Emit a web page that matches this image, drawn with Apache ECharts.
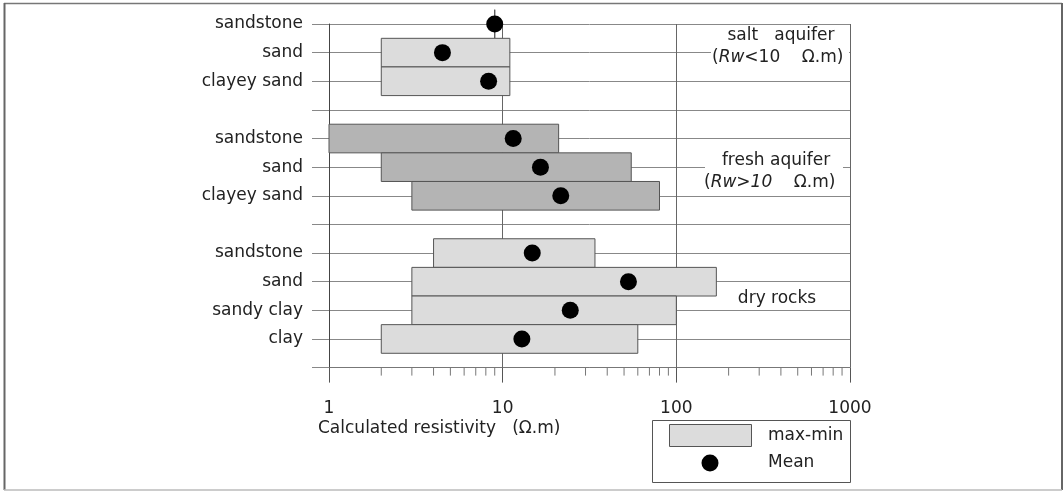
<!DOCTYPE html>
<html>
<head>
<meta charset="utf-8">
<style>
html,body{margin:0;padding:0;background:#fff;}
#chart{width:1064px;height:492px;}
</style>
<script src="https://cdn.jsdelivr.net/npm/echarts@6/dist/echarts.min.js"></script>
</head>
<body>
<div id="chart"></div>
<script>
// Row labels (top to bottom); empty strings are the gaps between groups
const categories = ['sandstone','sand','clayey sand','','sandstone','sand','clayey sand','','sandstone','sand','sandy clay','clay',''];
// Rows that carry data, with their group
const rowIndex   = [0, 1, 2, 4, 5, 6, 8, 9, 10, 11];
const rowGroup   = ['salt','salt','salt','fresh','fresh','fresh','dry','dry','dry','dry'];
// Resistivity (Ω.m)
const minValues  = [9, 2, 2, 1, 2, 3, 4, 3, 3, 2];
const maxValues  = [9, 11, 11, 21, 55, 80, 34, 170, 100, 60];
const meanValues = [9, 4.5, 8.3, 11.5, 16.5, 21.6, 14.8, 53, 24.5, 12.9];
// Axis tick labels
const xTickLabels = ['1', '10', '100', '1000'];
const minorTickValues = [2,3,4,5,6,7,8,9,20,30,40,50,60,70,80,90,200,300,400,500,600,700,800,900];

const FONT = 'DejaVu Sans';
const TXT = '#222';
const groupFill = { salt: '#dcdcdc', fresh: '#b4b4b4', dry: '#dcdcdc' };

const boxData = rowIndex.map((r, i) => [r, minValues[i], maxValues[i], rowGroup[i]]);
const meanData = rowIndex.map((r, i) => [meanValues[i], r]);

const chart = echarts.init(document.getElementById('chart'), null, { renderer: 'canvas' });

chart.setOption({
  animation: false,
  backgroundColor: '#fff',
  grid: { left: 329, right: 214, top: 24, bottom: 124.4, containLabel: false },
  xAxis: {
    type: 'log', logBase: 10, min: 1, max: 1000, position: 'bottom',
    axisLine: { show: true, onZero: false, lineStyle: { color: '#777', width: 1 } },
    axisTick: { show: true, inside: false, length: 15, lineStyle: { color: '#555' } },
    axisLabel: {
      margin: 32, fontFamily: FONT, fontSize: 17, color: TXT,
      formatter: v => xTickLabels[Math.round(Math.log10(v))] || ''
    },
    splitLine: { show: true, lineStyle: { color: '#666', width: 1 } },
    minorTick: { show: false }
  },
  yAxis: {
    type: 'value', min: 0, max: 12, interval: 1, inverse: true, position: 'left',
    axisLine: { show: true, onZero: false, lineStyle: { color: '#444', width: 1 } },
    axisTick: { show: true, length: 17, lineStyle: { color: '#888' } },
    axisLabel: {
      margin: 26, fontFamily: FONT, fontSize: 17, color: TXT, padding: [4, 0, 0, 0],
      formatter: v => categories[v] || ''
    },
    splitLine: { show: true, lineStyle: { color: '#888', width: 1 } }
  },
  series: [
    {
      name: 'max-min', type: 'custom', z: 3,
      data: boxData,
      encode: { x: [1, 2], y: 0 },
      renderItem: function (params, api) {
        const row = api.value(0);
        const p1 = api.coord([api.value(1), row - 0.5]);
        const p2 = api.coord([api.value(2), row + 0.5]);
        const g = boxData[params.dataIndex][3];
        return {
          type: 'rect',
          shape: {
            x: Math.min(p1[0], p2[0]), y: Math.min(p1[1], p2[1]),
            width: Math.abs(p2[0] - p1[0]), height: Math.abs(p2[1] - p1[1])
          },
          style: { fill: groupFill[g], stroke: '#555', lineWidth: 1 }
        };
      }
    },
    {
      name: 'minor ticks', type: 'custom', z: 3, silent: true, clip: false,
      data: minorTickValues.map(v => [v, 12]),
      encode: { x: 0, y: 1 },
      renderItem: function (params, api) {
        const p = api.coord([api.value(0), api.value(1)]);
        return {
          type: 'line',
          shape: { x1: p[0], y1: p[1], x2: p[0], y2: p[1] + 8 },
          style: { stroke: '#777', lineWidth: 1 }
        };
      }
    },
    {
      name: 'Mean', type: 'scatter', z: 5,
      data: meanData,
      symbol: 'circle', symbolSize: 17,
      itemStyle: { color: '#000', opacity: 1 }
    }
  ],
  graphic: [
    // outer frame
    { type: 'line', z: 100, shape: { x1: 4, y1: 3.5, x2: 1062, y2: 3.5 }, style: { stroke: '#777', lineWidth: 1.5 } },
    { type: 'line', z: 100, shape: { x1: 4.5, y1: 3, x2: 4.5, y2: 490 }, style: { stroke: '#666', lineWidth: 2 } },
    { type: 'line', z: 100, shape: { x1: 1062, y1: 3, x2: 1062, y2: 490 }, style: { stroke: '#666', lineWidth: 2 } },
    { type: 'line', z: 100, shape: { x1: 4, y1: 490, x2: 1062, y2: 490 }, style: { stroke: '#bbb', lineWidth: 1.5 } },
    // annotation backgrounds
    { type: 'rect', z: 100, shape: { x: 711, y: 46, width: 138, height: 22 }, style: { fill: '#fff' } },
    { type: 'rect', z: 100, shape: { x: 705, y: 150, width: 138, height: 41 }, style: { fill: '#fff' } },
    // annotations
    { type: 'text', z: 101, x: 781, y: 36, style: { text: 'salt   aquifer', fontFamily: FONT, fontSize: 17, fill: TXT, align: 'center', verticalAlign: 'middle' } },
    { type: 'text', z: 101, x: 712, y: 58, style: {
        text: '{n|(}{i|Rw}{n|<10    Ω.m)}', align: 'left', verticalAlign: 'middle',
        rich: { n: { fontFamily: FONT, fontSize: 17, fill: TXT }, i: { fontFamily: FONT, fontSize: 17, fontStyle: 'italic', fill: TXT } } } },
    { type: 'text', z: 101, x: 776, y: 161, style: { text: 'fresh aquifer', fontFamily: FONT, fontSize: 17, fill: TXT, align: 'center', verticalAlign: 'middle' } },
    { type: 'text', z: 101, x: 704, y: 183, style: {
        text: '{n|(}{i|Rw>10}{n|    Ω.m)}', align: 'left', verticalAlign: 'middle',
        rich: { n: { fontFamily: FONT, fontSize: 17, fill: TXT }, i: { fontFamily: FONT, fontSize: 17, fontStyle: 'italic', fill: TXT } } } },
    { type: 'text', z: 101, x: 777, y: 299, style: { text: 'dry rocks', fontFamily: FONT, fontSize: 17, fill: TXT, align: 'center', verticalAlign: 'middle' } },
    // axis title
    { type: 'text', z: 101, x: 318, y: 429, style: { text: 'Calculated resistivity   (Ω.m)', fontFamily: FONT, fontSize: 17, fill: TXT, align: 'left', verticalAlign: 'middle' } },
    // legend
    { type: 'rect', z: 100, shape: { x: 652.5, y: 420.5, width: 198, height: 62 }, style: { fill: '#fff', stroke: '#555', lineWidth: 1 } },
    { type: 'rect', z: 101, shape: { x: 669.5, y: 424.5, width: 82, height: 22 }, style: { fill: '#dcdcdc', stroke: '#555', lineWidth: 1 } },
    { type: 'circle', z: 101, shape: { cx: 710, cy: 463, r: 8.5 }, style: { fill: '#000' } },
    { type: 'text', z: 101, x: 768, y: 436, style: { text: 'max-min', fontFamily: FONT, fontSize: 17, fill: TXT, align: 'left', verticalAlign: 'middle' } },
    { type: 'text', z: 101, x: 768, y: 463, style: { text: 'Mean', fontFamily: FONT, fontSize: 17, fill: TXT, align: 'left', verticalAlign: 'middle' } }
  ]
});
</script>
</body>
</html>
